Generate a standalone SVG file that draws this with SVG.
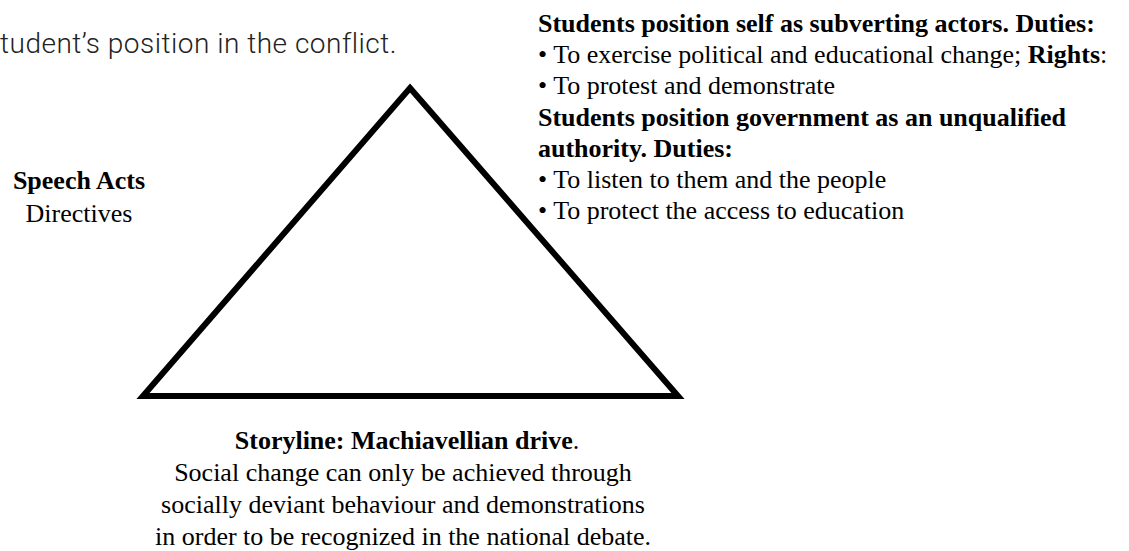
<svg xmlns="http://www.w3.org/2000/svg" width="1129" height="551" viewBox="0 0 1129 551">
  <style>
    .serif { font-family: "Liberation Serif", "Times New Roman", serif; font-size: 26px; fill: #000; }
    .b { font-weight: bold; }
    .mid { text-anchor: middle; }
    .caption { font-family: Roboto, "Liberation Sans", sans-serif; font-weight: 300; font-size: 28px; letter-spacing: 0.5px; fill: #222; }
    .tri { fill: none; stroke: #000; stroke-width: 6; stroke-linejoin: miter; stroke-miterlimit: 10; }
  </style>
  <rect width="1129" height="551" fill="#fff"/>
  <g id="caption">
    <text class="caption" x="0" y="53">tudent’s position in the conflict.</text>
  </g>
  <g id="triangle">
    <polygon class="tri" points="410,88 678,396 143,396"/>
  </g>
  <g id="node-positioning">
    <text class="serif b" x="538" y="32">Students position self as subverting actors. Duties:</text>
    <text class="serif" x="538" y="63">•  To exercise political and educational change; <tspan class="b">Rights</tspan>:</text>
    <text class="serif" x="538" y="94">•  To protest and demonstrate</text>
    <text class="serif b" x="538" y="126">Students position government as an unqualified</text>
    <text class="serif b" x="538" y="157">authority. Duties:</text>
    <text class="serif" x="538" y="188">•  To listen to them and the people</text>
    <text class="serif" x="538" y="219">•  To protect the access to education</text>
  </g>
  <g id="node-speech-acts">
    <text class="serif b mid" x="79" y="189">Speech Acts</text>
    <text class="serif mid" x="79" y="222">Directives</text>
  </g>
  <g id="node-storyline">
    <text class="serif mid" x="407" y="449"><tspan class="b">Storyline: Machiavellian drive</tspan>.</text>
    <text class="serif mid" x="403" y="481">Social change can only be achieved through</text>
    <text class="serif mid" x="403" y="513">socially deviant behaviour and demonstrations</text>
    <text class="serif mid" x="403" y="545">in order to be recognized in the national debate.</text>
  </g>
</svg>
